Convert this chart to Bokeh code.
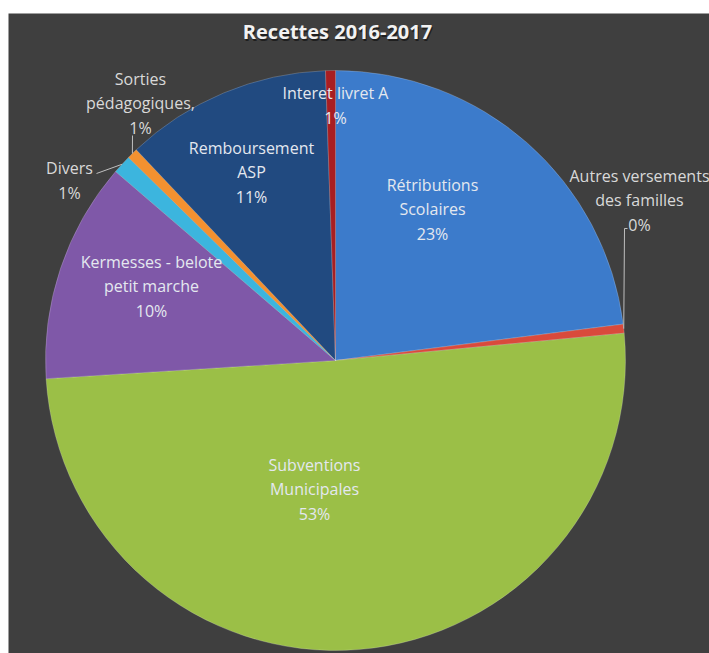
import math
from bokeh.plotting import figure
from bokeh.models import Range1d
from bokeh.core.properties import value
from bokeh.embed import file_html
from bokeh.resources import INLINE

# ---- data ----
categories = ["Rétributions Scolaires", "Autres versements des familles",
              "Subventions Municipales", "Kermesses - belote petit marche",
              "Divers", "Sorties pédagogiques,", "Remboursement ASP",
              "Interet livret A"]
values = [23.0, 0.5, 50.5, 12.3, 1.05, 0.6, 11.5, 0.55]
pct_labels = ["23%", "0%", "53%", "10%", "1%", "1%", "11%", "1%"]
label_lines = [["Rétributions", "Scolaires"],
               ["Autres versements", "des familles"],
               ["Subventions", "Municipales"],
               ["Kermesses - belote", "petit marche"],
               ["Divers"],
               ["Sorties", "pédagogiques,"],
               ["Remboursement", "ASP"],
               ["Interet livret A"]]
title = "Recettes 2016-2017"

# ---- style / layout ----
colors = ["#3c7bcb", "#d94a3c", "#9bbf47", "#7f58a8",
          "#3cb5de", "#f39130", "#214a80", "#a81e22"]
cx, cy, R = 335, -360, 290
# label block centres (page pixel coords, y negated)
label_pos = [(432, -209), (639, -200), (314, -489), (151, -286),
             (69, -180), (140, -103), (251, -172), (335, -105)]
outside = [False, True, False, False, True, True, False, False]
leader_end = {1: (627, -228), 4: (96, -173), 5: (132, -135)}

p = figure(width=709, height=653, x_range=Range1d(8, 709), y_range=Range1d(-653, -13),
           x_axis_type=None, y_axis_type=None, output_backend="svg",
           toolbar_location=None, min_border_left=8, min_border_right=0,
           min_border_top=13, min_border_bottom=0)
p.grid.visible = False
p.outline_line_color = None
p.background_fill_color = "#3f3f3f"
p.border_fill_color = "white"

total = sum(values)
cum = 0.0
starts, ends, mids = [], [], []
for v in values:
    a0 = cum / total * 2 * math.pi
    cum += v
    a1 = cum / total * 2 * math.pi
    # clockwise from 12 o'clock -> math angles
    starts.append(math.pi / 2 - a1)
    ends.append(math.pi / 2 - a0)
    mids.append((a0 + a1) / 2)

p.wedge(x=[cx] * len(values), y=[cy] * len(values), radius=R,
        start_angle=starts, end_angle=ends, fill_color=colors,
        line_color="#ffffff", line_alpha=0.2, line_width=1)

font = value("Open Sans")
for i, lines in enumerate(label_lines):
    txt = "\n".join(lines + [pct_labels[i]])
    x, y = label_pos[i]
    col = "#d9d9d9" if outside[i] else "#e4e8ef"
    p.text(x=[x], y=[y], text=[txt], text_font=font, text_font_size="16px",
           text_color=col, text_align="center", text_baseline="middle",
           text_line_height=1.12)
    if i in leader_end:
        ex, ey = leader_end[i]
        sx = cx + R * math.sin(mids[i])
        sy = cy + R * math.cos(mids[i])
        if i == 1:
            p.line(x=[sx, ex - 3, ex], y=[sy, ey, ey], line_color="#bfbfbf", line_width=1)
        else:
            p.line(x=[sx, ex], y=[sy, ey], line_color="#bfbfbf", line_width=1)

# title with shadow
p.text(x=[338], y=[-33], text=[title], text_font=font, text_font_size="20px",
       text_font_style="bold", text_color="black", text_alpha=0.5,
       text_align="center", text_baseline="middle")
p.text(x=[337], y=[-31], text=[title], text_font=font, text_font_size="20px",
       text_font_style="bold", text_color="#f2f2f2",
       text_align="center", text_baseline="middle")

open("out.html", "w").write(file_html(p, INLINE))
